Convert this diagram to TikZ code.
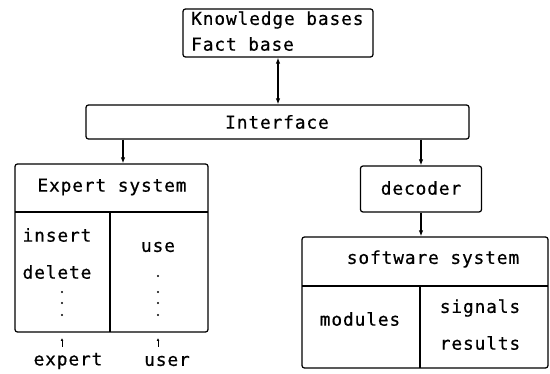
\documentclass[tikz,border=0pt]{standalone}
\usepackage{fontspec}
\newfontfamily\diagfont{DejaVu Sans Mono}[LetterSpace=5,FakeBold=0.6]
\usetikzlibrary{arrows.meta}
\begin{document}
\begin{tikzpicture}[x=1pt,y=-1pt,
  frame/.style={draw, line width=1.25pt, rounded corners=2.5pt, inner sep=0pt},
  lbl/.style={inner sep=0pt, font=\fontsize{17.8}{25}\diagfont},
  rule/.style={line width=1.25pt},
  link/.style={line width=1.25pt, -{Latex[length=6pt,width=4.5pt]}},
  twoway/.style={line width=1.25pt, {Latex[length=6pt,width=4.5pt]}-{Latex[length=6pt,width=4.5pt]}},
  hint/.style={line width=1pt, -{Latex[length=3pt,width=3pt]}},
]
\useasboundingbox (0,0) rectangle (550,374);

% boxes
\node[frame, minimum width=190pt, minimum height=48pt] (kb) at (278,33) {};
\node[frame, minimum width=383pt, minimum height=34pt] (iface) at (277.5,122) {};
\node[frame, minimum width=193pt, minimum height=168pt] (esys) at (111.5,248) {};
\node[frame, minimum width=121pt, minimum height=46pt] (dec) at (421,189) {};
\node[frame, minimum width=246pt, minimum height=131pt] (soft) at (425,302.5) {};

% inner dividers
\draw[rule] (15,212) -- (208,212);
\draw[rule] (110,212) -- (110,332);
\draw[rule] (302,286) -- (548,286);
\draw[rule] (420,286) -- (420,368);

% labels
\node[lbl, anchor=west] (kbt1) at (191,20) {Knowledge bases};
\node[lbl, anchor=west] (kbt2) at (191,44) {Fact base};
\node[lbl] (ifacet) at (277,122) {Interface};
\node[lbl] (esyst) at (112,187) {Expert system};
\node[lbl] (ins) at (57,235) {insert};
\node[lbl] (del) at (57,272) {delete};
\node[lbl] (use) at (158,247) {use};
\node[lbl] (dect) at (421,188) {decoder};
\node[lbl] (softt) at (433,259) {software system};
\node[lbl] (mods) at (360,319) {modules};
\node[lbl] (sig) at (480,308) {signals};
\node[lbl] (res) at (480,343) {results};
\node[lbl] (expt) at (68,361) {expert};
\node[lbl] (usert) at (167,361) {user};

% continuation dots
\foreach \y in {292,303,315} \fill (62,\y) circle (1.2pt);
\foreach \y in {276,292,303,315} \fill (158,\y) circle (1.2pt);

% connectors
\draw[twoway] (kb.south) -- (iface.north -| kb.south);
\coordinate (ex) at (123,0);
\draw[link] (iface.south -| ex) -- (esys.north -| ex);
\draw[link] (iface.south -| dec.north) -- (dec.north);
\draw[link] (dec.south) -- (soft.north -| dec.south);

% input marks under the expert system
\coordinate (ea0) at (62,347);
\coordinate (ea1) at (62,338);
\coordinate (ua0) at (158,347);
\coordinate (ua1) at (158,338);
\draw[hint] (ea0) -- (ea1);
\draw[hint] (ua0) -- (ua1);
\end{tikzpicture}
\end{document}
